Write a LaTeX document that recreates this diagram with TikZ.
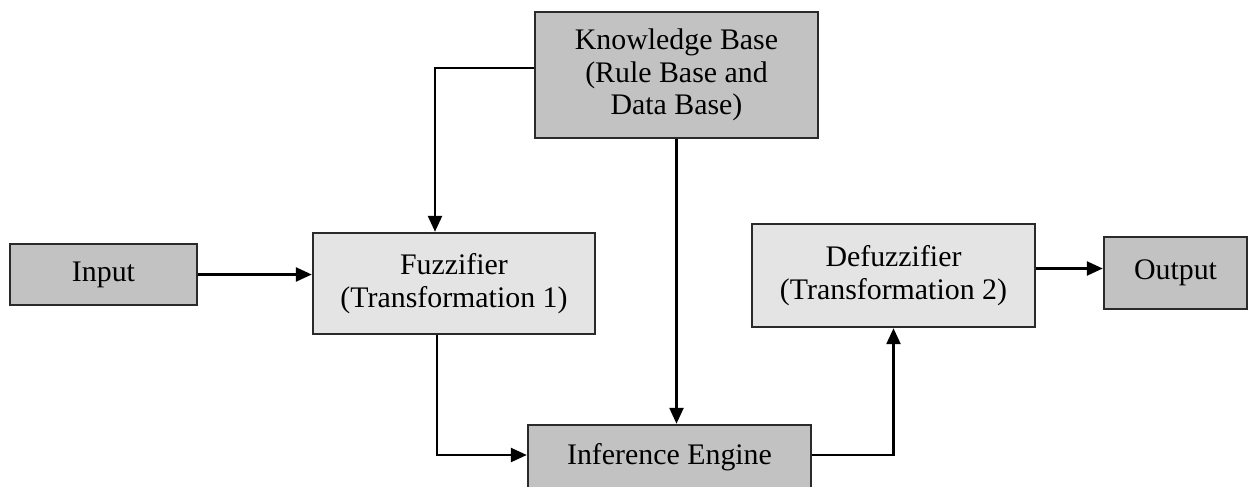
\documentclass[tikz,border=0pt]{standalone}
\usepackage{fontspec}
\setmainfont{Liberation Serif}
\usetikzlibrary{arrows.meta}

\definecolor{cajaoscura}{HTML}{C2C2C2}
\definecolor{cajaclara}{HTML}{E4E4E4}
\definecolor{borde}{HTML}{2A2A2A}

\tikzset{
    caja/.style={draw=borde, line width=1.4pt, align=center, inner sep=0pt,
        text=black, font=\fontsize{17}{18.5}\selectfont},
    flecha/.style={line width=1.4pt, draw=black,
        -{Triangle[length=0.32cm,width=0.28cm]}},
}

\begin{document}
\begin{tikzpicture}[x=0.02cm,y=-0.02cm]
    \useasboundingbox (0,0) rectangle (1249,487);
    \clip (0,0) rectangle (1249,487);

    % Bloques del sistema difuso
    \node[caja, fill=cajaoscura, minimum width=5.66cm, minimum height=2.52cm]
        (kb) at (676.5,75) {Knowledge Base\\(Rule Base and\\Data Base)};
    \node[caja, fill=cajaoscura, minimum width=3.74cm, minimum height=1.22cm]
        (in) at (103.5,274.5) {Input};
    \node[caja, fill=cajaclara, minimum width=5.64cm, minimum height=2.02cm]
        (fuzz) at (454,283.5) {Fuzzifier\\(Transformation 1)};
    \node[caja, fill=cajaclara, minimum width=5.66cm, minimum height=2.06cm]
        (defuzz) at (893.5,275.5) {Defuzzifier\\(Transformation 2)};
    \node[caja, fill=cajaoscura, minimum width=2.86cm, minimum height=1.44cm]
        (out) at (1175.5,273) {Output};
    \node[caja, fill=cajaoscura, minimum width=5.66cm, minimum height=1.3cm]
        (ie) at (669.5,457.5) {Inference Engine};

    % Conexiones
    \draw[flecha] (in.east) -- (in.east -| fuzz.west);
    \draw[flecha] ([yshift=0.14cm]kb.west) -| ([xshift=-0.38cm]fuzz.north);
    \draw[flecha] (kb.south) -- (kb.south |- ie.north);
    \draw[flecha] ([xshift=-0.34cm]fuzz.south) |- ([yshift=0.05cm]ie.west);
    \draw[flecha] ([yshift=0.05cm]ie.east) -| (defuzz.south);
    \draw[flecha] ([yshift=0.14cm]defuzz.east) -- ([yshift=0.14cm]defuzz.east -| out.west);
\end{tikzpicture}
\end{document}
